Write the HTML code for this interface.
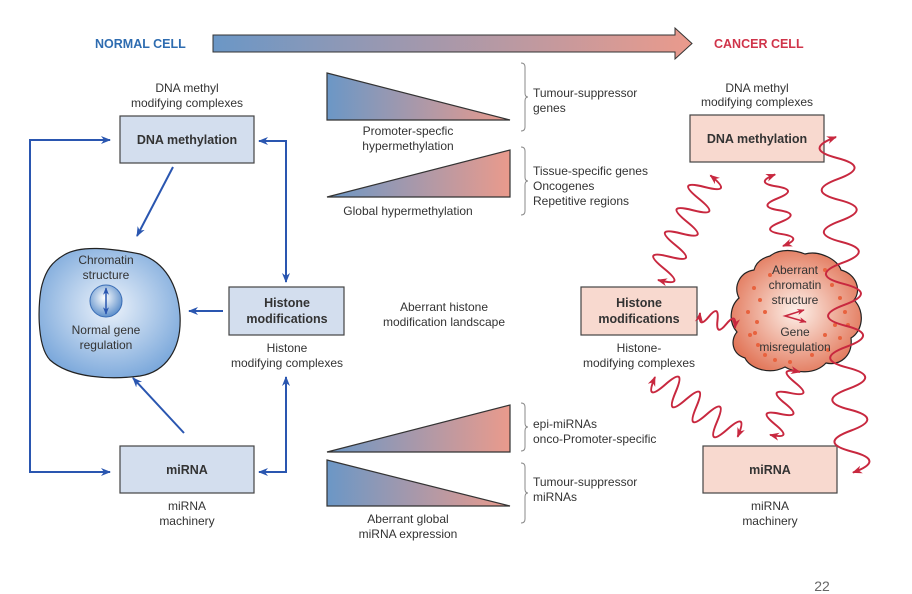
<!DOCTYPE html>
<html><head><meta charset="utf-8"><style>
html,body{margin:0;padding:0;background:#fff}
svg{display:block}
text{font-family:"Liberation Sans",Arial,sans-serif;fill:#333}
</style></head><body>
<svg width="912" height="594" viewBox="0 0 912 594" xmlns="http://www.w3.org/2000/svg">
<defs>
<linearGradient id="bp" x1="0" x2="1" y1="0" y2="0"><stop offset="0" stop-color="#6b97c6"/><stop offset="1" stop-color="#ea9a8c"/></linearGradient>
<radialGradient id="nb" cx="0.5" cy="0.45" r="0.6"><stop offset="0" stop-color="#edf3fb"/><stop offset="1" stop-color="#78a6da"/></radialGradient>
<radialGradient id="cb" cx="0.5" cy="0.5" r="0.55"><stop offset="0" stop-color="#fdf1ea"/><stop offset="1" stop-color="#e2775a"/></radialGradient>
<radialGradient id="inner" cx="0.45" cy="0.4" r="0.6"><stop offset="0" stop-color="#fff"/><stop offset="1" stop-color="#5d8fcb"/></radialGradient>
<marker id="ab" viewBox="0 0 10 10" refX="9" refY="5" markerWidth="5" markerHeight="5" orient="auto-start-reverse"><path d="M0,1 L10,5 L0,9 L3,5z" fill="#2a56b0"/></marker>
<marker id="ar" viewBox="0 0 10 10" refX="9" refY="5" markerWidth="5" markerHeight="5" orient="auto-start-reverse"><path d="M0,1 L10,5 L0,9 L3,5z" fill="#c8283f"/></marker>
</defs>

<text x="95" y="48" font-size="12.5" font-weight="bold" style="fill:#2e6cb0">NORMAL CELL</text>
<text x="714" y="48" font-size="12.5" font-weight="bold" style="fill:#d0344a">CANCER CELL</text>
<path d="M213,35 L675,35 L675,28 L692,43.5 L675,59 L675,52 L213,52 Z" fill="url(#bp)" stroke="#333" stroke-width="1"/>

<path d="M327,73 L510,120 L327,120 Z" fill="url(#bp)" stroke="#333" stroke-width="1.2"/>
<path d="M327,197 L510,150 L510,197 Z" fill="url(#bp)" stroke="#333" stroke-width="1.2"/>
<path d="M327,452 L510,405 L510,452 Z" fill="url(#bp)" stroke="#333" stroke-width="1.2"/>
<path d="M327,460 L510,506 L327,506 Z" fill="url(#bp)" stroke="#333" stroke-width="1.2"/>
<g font-size="12" text-anchor="middle">
<text x="408" y="135">Promoter-specfic</text><text x="408" y="150">hypermethylation</text>
<text x="408" y="215">Global hypermethylation</text>
<text x="444" y="311">Aberrant histone</text><text x="444" y="326">modification landscape</text>
<text x="408" y="523">Aberrant global</text><text x="408" y="538">miRNA expression</text>
</g>
<g fill="none" stroke="#888" stroke-width="1">
<path d="M521,63 q4,0 4,4 v26 q0,4 3,4 q-3,0 -3,4 v26 q0,4 -4,4"/>
<path d="M521,147 q4,0 4,4 v26 q0,4 3,4 q-3,0 -3,4 v26 q0,4 -4,4"/>
<path d="M521,403 q4,0 4,4 v16 q0,4 3,4 q-3,0 -3,4 v16 q0,4 -4,4"/>
<path d="M521,463 q4,0 4,4 v22 q0,4 3,4 q-3,0 -3,4 v22 q0,4 -4,4"/>
</g>
<g font-size="12">
<text x="533" y="97">Tumour-suppressor</text><text x="533" y="112">genes</text>
<text x="533" y="175">Tissue-specific genes</text><text x="533" y="190">Oncogenes</text><text x="533" y="205">Repetitive regions</text>
<text x="533" y="428">epi-miRNAs</text><text x="533" y="443">onco-Promoter-specific</text>
<text x="533" y="486">Tumour-suppressor</text><text x="533" y="501">miRNAs</text>
</g>

<g font-size="12" text-anchor="middle">
<text x="187" y="92">DNA methyl</text><text x="187" y="107">modifying complexes</text>
<text x="287" y="352">Histone</text><text x="287" y="367">modifying complexes</text>
<text x="187" y="510">miRNA</text><text x="187" y="525">machinery</text>
</g>
<rect x="120" y="116" width="134" height="47" fill="#d3deee" stroke="#444" stroke-width="1.2"/>
<rect x="229" y="287" width="115" height="48" fill="#d3deee" stroke="#444" stroke-width="1.2"/>
<rect x="120" y="446" width="134" height="47" fill="#d3deee" stroke="#444" stroke-width="1.2"/>
<g font-size="12.5" font-weight="bold" text-anchor="middle">
<text x="187" y="144">DNA methylation</text>
<text x="287" y="307">Histone</text><text x="287" y="323">modifications</text>
<text x="187" y="474">miRNA</text>
</g>
<path d="M64,255 C80,245 110,248 140,254 C165,262 178,285 180,315 C182,350 165,372 140,376 C110,380 70,378 50,360 C36,345 38,300 42,285 C46,270 52,262 64,255 Z" fill="url(#nb)" stroke="#222" stroke-width="1.2"/>
<circle cx="106" cy="301" r="16" fill="url(#inner)" stroke="#3a6db5" stroke-width="1"/>
<line x1="106" y1="288" x2="106" y2="314" stroke="#2a56b0" stroke-width="1.5" marker-end="url(#ab)" marker-start="url(#ab)"/>
<g font-size="12" text-anchor="middle">
<text x="106" y="264">Chromatin</text><text x="106" y="279">structure</text>
<text x="106" y="334">Normal gene</text><text x="106" y="349">regulation</text>
</g>
<g fill="none" stroke="#2a56b0" stroke-width="2">
<path d="M110,140 H30 V472 H110" marker-end="url(#ab)" marker-start="url(#ab)"/>
<path d="M259,141 H286 V282" marker-end="url(#ab)" marker-start="url(#ab)"/>
<path d="M259,472 H286 V377" marker-end="url(#ab)" marker-start="url(#ab)"/>
<path d="M173,167 L137,236" marker-end="url(#ab)"/>
<path d="M184,433 L133,378" marker-end="url(#ab)"/>
<path d="M223,311 L189,311" marker-end="url(#ab)"/>
</g>

<g font-size="12" text-anchor="middle">
<text x="757" y="92">DNA methyl</text><text x="757" y="106">modifying complexes</text>
<text x="639" y="352">Histone-</text><text x="639" y="367">modifying complexes</text>
<text x="770" y="510">miRNA</text><text x="770" y="525">machinery</text>
</g>
<rect x="690" y="115" width="134" height="47" fill="#f8d9cf" stroke="#444" stroke-width="1.2"/>
<rect x="581" y="287" width="116" height="48" fill="#f8d9cf" stroke="#444" stroke-width="1.2"/>
<rect x="703" y="446" width="134" height="47" fill="#f8d9cf" stroke="#444" stroke-width="1.2"/>
<g font-size="12.5" font-weight="bold" text-anchor="middle">
<text x="757" y="143">DNA methylation</text>
<text x="639" y="307">Histone</text><text x="639" y="323">modifications</text>
<text x="770" y="474">miRNA</text>
</g>
<path d="M770,256 C780,248 795,250 805,254 C820,250 838,260 841,270 C856,274 862,290 854,300 C866,312 862,332 851,338 C853,356 840,366 826,363 C815,375 795,373 785,367 C770,375 750,369 745,358 C732,354 730,340 737,332 C728,322 730,306 739,298 C733,286 740,272 754,270 C756,262 762,258 770,256 Z" fill="url(#cb)" stroke="#222" stroke-width="1.2"/>
<g fill="#e8623e">
<circle cx="754" cy="288" r="2"/><circle cx="760" cy="300" r="2"/><circle cx="748" cy="312" r="2"/><circle cx="757" cy="322" r="2"/><circle cx="750" cy="335" r="2"/><circle cx="758" cy="345" r="2"/><circle cx="765" cy="355" r="2"/><circle cx="775" cy="360" r="2"/><circle cx="790" cy="362" r="2"/><circle cx="825" cy="270" r="2"/><circle cx="832" cy="285" r="2"/><circle cx="840" cy="298" r="2"/><circle cx="845" cy="312" r="2"/><circle cx="835" cy="325" r="2"/><circle cx="848" cy="325" r="2"/><circle cx="825" cy="335" r="2"/><circle cx="840" cy="338" r="2"/><circle cx="828" cy="350" r="2"/><circle cx="812" cy="355" r="2"/><circle cx="770" cy="275" r="2"/><circle cx="765" cy="312" r="2"/><circle cx="755" cy="333" r="2"/>
</g>
<g font-size="12" text-anchor="middle">
<text x="795" y="274">Aberrant</text><text x="795" y="289">chromatin</text><text x="795" y="304">structure</text>
<text x="795" y="336">Gene</text><text x="795" y="351">misregulation</text>
</g>
<path d="M804,310 L785,316 L806,322" fill="none" stroke="#c8283f" stroke-width="1.5" marker-start="url(#ar)" marker-end="url(#ar)"/>

<g fill="none" stroke="#c8283f" stroke-width="2">
<g transform="translate(658,280) rotate(-63.4)"><path d="M0,0 q6.5,30 13,0 t13,0 t13,0 t13,0 t13,0 t13,0 t13,0 t13,0 t13,0" marker-start="url(#ar)" marker-end="url(#ar)"/></g>
<g transform="translate(783,246) rotate(-96.3)"><path d="M0,0 q6,22 12,0 t12,0 t12,0 t12,0 t12,0 t12,0" marker-start="url(#ar)" marker-end="url(#ar)"/></g>
<g transform="translate(836,137) rotate(87.1)"><path d="M0,0 q10.5,34 21,0 t21,0 t21,0 t21,0 t21,0 t21,0 t21,0 t21,0 t21,0 t21,0 t21,0 t21,0 t21,0 t21,0 t21,0 t21,0" marker-start="url(#ar)" marker-end="url(#ar)"/></g>
<g transform="translate(700,313) rotate(23)"><path d="M0,0 q4.75,16 9.5,0 t9.5,0 t9.5,0 t9.5,0" marker-start="url(#ar)" marker-end="url(#ar)"/></g>
<g transform="translate(655,377) rotate(35.9)"><path d="M0,0 q6.4,28 12.75,0 t12.75,0 t12.75,0 t12.75,0 t12.75,0 t12.75,0 t12.75,0 t12.75,0" marker-start="url(#ar)" marker-end="url(#ar)"/></g>
<g transform="translate(800,372) rotate(115.5)"><path d="M0,0 q5.8,24 11.6,0 t11.6,0 t11.6,0 t11.6,0 t11.6,0 t11.6,0" marker-start="url(#ar)" marker-end="url(#ar)"/></g>
</g>

<text x="822" y="591" font-size="14" text-anchor="middle" style="fill:#666">22</text>
</svg>
</body></html>
